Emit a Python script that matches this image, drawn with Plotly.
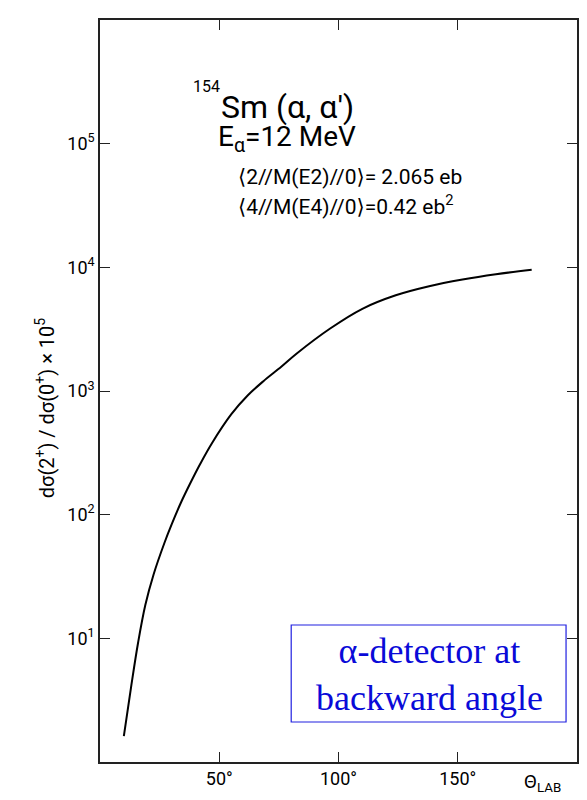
import plotly.graph_objects as go

# Data
theta = [10, 13, 16, 19, 22.5, 27, 30, 34, 38, 42, 47, 55, 62, 68.5, 76, 82.5, 96.5, 110, 124, 138, 152, 166, 181]
ratio = [1.62, 4.0, 9.3, 18.6, 33, 59, 83, 126, 182, 257, 380, 646, 923, 1200, 1570, 2010, 3200, 4620, 5940, 7030, 7960, 8790, 9570]

xtick_vals = [50, 100, 150]
xtick_text = ["50°", "100°", "150°"]
ytick_vals = [10, 100, 1000, 10000, 100000]
ytick_text = ["10<sup>1</sup>", "10<sup>2</sup>", "10<sup>3</sup>", "10<sup>4</sup>", "10<sup>5</sup>"]

W, H = 587, 800
L, R, T, B = 100, 579, 20, 762

def px(x):
    return (x - L) / (R - L)

def py(y):
    return (B - y) / (B - T)

fig = go.Figure()
fig.add_trace(go.Scatter(x=theta, y=ratio, mode="lines",
                         line=dict(color="black", width=2, shape="spline", smoothing=1.0),
                         showlegend=False, hoverinfo="skip"))

font_main = "Roboto, DejaVu Sans, sans-serif"
axis_common = dict(showline=True, linecolor="#222", linewidth=1.5, mirror="ticks",
                   ticks="inside", ticklen=10, tickwidth=1.2, tickcolor="#222",
                   showgrid=False, zeroline=False,
                   tickfont=dict(family=font_main, size=18, color="black"))

fig.update_xaxes(range=[0, 200], tickvals=xtick_vals, ticktext=xtick_text, **axis_common)
fig.update_yaxes(type="log", range=[0, 6], tickvals=ytick_vals, ticktext=ytick_text, **axis_common)

ann = []
ann.append(dict(x=px(191), y=py(87), text="154", font=dict(size=16, family=font_main, color="black"),
                xanchor="left", yanchor="middle"))
ann.append(dict(x=px(219), y=py(107), text="Sm (α, α')", font=dict(size=32, family=font_main, color="black"),
                xanchor="left", yanchor="middle"))
ann.append(dict(x=px(216), y=py(138), text="E<sub>α</sub>=12 MeV", font=dict(size=28, family=font_main, color="black"),
                xanchor="left", yanchor="middle"))
ann.append(dict(x=px(237), y=py(177), text="⟨2//M(E2)//0⟩= 2.065 eb", font=dict(size=21, family=font_main, color="black"),
                xanchor="left", yanchor="middle"))
ann.append(dict(x=px(237), y=py(205), text="⟨4//M(E4)//0⟩=0.42 eb<sup>2</sup>", font=dict(size=21, family=font_main, color="black"),
                xanchor="left", yanchor="middle"))
ann.append(dict(x=px(544), y=py(782), text="Θ<sub>LAB</sub>", font=dict(size=19, family=font_main, color="black"),
                xanchor="center", yanchor="middle"))
ann.append(dict(x=px(45), y=py(408), text="dσ(2<sup>+</sup>) / dσ(0<sup>+</sup>) × 10<sup>5</sup>",
                font=dict(size=20, family=font_main, color="black"), textangle=-90,
                xanchor="center", yanchor="middle"))
ann.append(dict(x=px(431), y=py(674), text="α-detector at<br>backward angle",
                font=dict(size=36, family="Liberation Serif, Times New Roman, serif", color="#0a0ad8"),
                xanchor="center", yanchor="middle", align="center", showarrow=False))
for a in ann:
    a.update(xref="paper", yref="paper", showarrow=False)

fig.update_layout(
    width=W, height=H,
    margin=dict(l=L, r=W - R, t=T, b=H - B),
    paper_bgcolor="white", plot_bgcolor="white",
    annotations=ann,
    shapes=[dict(type="rect", xref="paper", yref="paper",
                 x0=px(292), x1=px(568), y0=py(722), y1=py(625),
                 line=dict(color="#2020e0", width=1.2), fillcolor="white", layer="above")],
)
fig.write_html("out.html")
